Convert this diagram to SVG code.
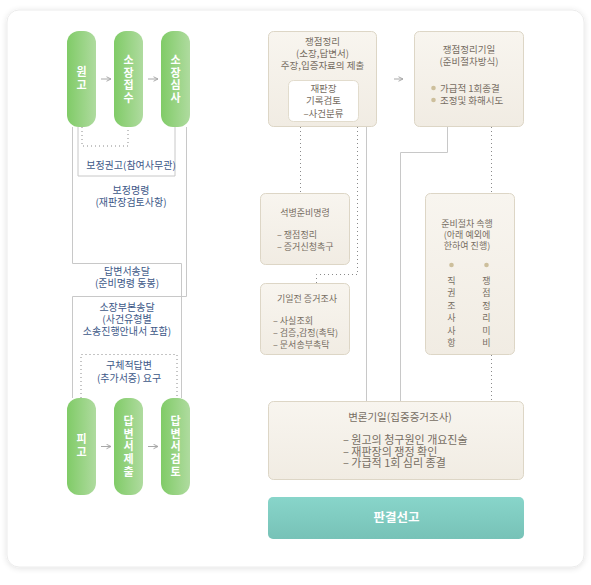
<svg xmlns="http://www.w3.org/2000/svg" width="591" height="585" viewBox="0 0 591 585">
<defs>
<linearGradient id="gGreen" x1="0" y1="0" x2="1" y2="0">
<stop offset="0" stop-color="#80cb67"/><stop offset="1" stop-color="#afdb9f"/>
</linearGradient>
<linearGradient id="gBeige" x1="0" y1="0" x2="0" y2="1">
<stop offset="0" stop-color="#f8f5ef"/><stop offset="1" stop-color="#f1ece3"/>
</linearGradient>
<linearGradient id="gTeal" x1="0" y1="0" x2="0" y2="1">
<stop offset="0" stop-color="#88d5ca"/><stop offset="1" stop-color="#77c2b7"/>
</linearGradient>
<filter id="sh" x="-5%" y="-5%" width="110%" height="110%">
<feGaussianBlur in="SourceAlpha" stdDeviation="3"/>
<feOffset dx="0" dy="1"/>
<feComponentTransfer><feFuncA type="linear" slope="0.12"/></feComponentTransfer>
<feMerge><feMergeNode/><feMergeNode in="SourceGraphic"/></feMerge>
</filter>
<marker id="arr" viewBox="0 0 8 8" refX="7" refY="4" markerWidth="6" markerHeight="6" orient="auto" markerUnits="userSpaceOnUse">
<path d="M1,1 L7,4 L1,7" fill="none" stroke="#a8a8a8" stroke-width="1.3"/>
</marker>
</defs>
<style>
.pill{fill:url(#gGreen)}
.pt{font-family:"Noto Sans CJK KR","Noto Sans",sans-serif;font-size:11px;font-weight:bold;fill:#ffffff;text-anchor:middle}
.lbl{font-family:"Noto Sans CJK KR","Noto Sans",sans-serif;font-size:10px;fill:#3d5888;text-anchor:middle}
.bx{fill:url(#gBeige);stroke:#ddd6c6;stroke-width:1}
.inner{fill:#ffffff;stroke:#e2dccd;stroke-width:1}
.bt{font-family:"Noto Sans CJK KR","Noto Sans",sans-serif;font-size:9px;fill:#766d62}
.bt2{font-size:9.5px}
.btc{text-anchor:middle}
.big{font-size:10.5px}
.big2{font-size:11px}
.ln{fill:none;stroke:#c8c8c8;stroke-width:1}
.dt{fill:none;stroke:#8a8a8a;stroke-width:1;stroke-dasharray:1 3}
.ar{stroke:#a8a8a8;stroke-width:1;marker-end:url(#arr)}
.dot{fill:#cdbf9c}
</style>
<rect x="0" y="0" width="591" height="585" fill="#ffffff"/>
<rect x="7" y="10" width="577" height="557" rx="12" fill="#ffffff" stroke="#ececec" filter="url(#sh)"/>

<g id="connectors">
<polyline class="dt" points="82,127 82,146 128,146 128,127"/>
<polyline class="ln" points="78,127 78,176 175,176 175,127"/>
<polyline class="ln" points="72.5,127 72.5,263.5 181.5,263.5 181.5,398"/>
<polyline class="ln" points="186.5,127 186.5,296.5 72.5,296.5 72.5,398"/>
<polyline class="dt" points="81,398 81,354.5 177,354.5 177,398"/>
<line class="ar" x1="101" y1="79" x2="111" y2="79"/>
<line class="ar" x1="148" y1="79" x2="158" y2="79"/>
<line class="ar" x1="101" y1="446.5" x2="111" y2="446.5"/>
<line class="ar" x1="148" y1="446.5" x2="158" y2="446.5"/>
<line class="ar" x1="394" y1="79" x2="403" y2="79"/>
<line class="dt" x1="300.5" y1="127" x2="300.5" y2="193"/>
<polyline class="dt" points="357.5,127 357.5,274.5 316.5,274.5 316.5,283"/>
<line class="ln" x1="366.5" y1="127" x2="366.5" y2="401"/>
<polyline class="ln" points="447.5,127 447.5,152.5 400.5,152.5 400.5,401"/>
<line class="dt" x1="491.5" y1="127" x2="491.5" y2="193"/>
<line class="dt" x1="491.5" y1="355" x2="491.5" y2="401"/>
</g>

<g id="labels-left">
<text class="lbl" x="131" y="169">보정권고(참여사무관)</text>
<text class="lbl" x="131" y="194">보정명령</text>
<text class="lbl" x="131" y="206">(재판장검토사항)</text>
<text class="lbl" x="127" y="275">답변서송달</text>
<text class="lbl" x="127" y="287">(준비명령 동봉)</text>
<text class="lbl" x="127" y="311">소장부본송달</text>
<text class="lbl" x="127" y="322.5">(사건유형별</text>
<text class="lbl" x="127" y="334.5">소송진행안내서 포함)</text>
<text class="lbl" x="129" y="369">구체적답변</text>
<text class="lbl" x="129" y="382">(추가서증) 요구</text>
</g>

<g id="n-wongo">
<rect class="pill" x="67" y="31" width="29" height="96" rx="12"/>
<text class="pt"><tspan x="81.5" y="76">원</tspan><tspan x="81.5" y="89">고</tspan></text>
</g>
<g id="n-sojangjeopsu">
<rect class="pill" x="114" y="31" width="29" height="96" rx="12"/>
<text class="pt"><tspan x="128.5" y="64">소</tspan><tspan x="128.5" y="76.5">장</tspan><tspan x="128.5" y="89">접</tspan><tspan x="128.5" y="101.5">수</tspan></text>
</g>
<g id="n-sojangsimsa">
<rect class="pill" x="161" y="31" width="29" height="96" rx="12"/>
<text class="pt"><tspan x="175.5" y="64">소</tspan><tspan x="175.5" y="76.5">장</tspan><tspan x="175.5" y="89">심</tspan><tspan x="175.5" y="101.5">사</tspan></text>
</g>
<g id="n-pigo">
<rect class="pill" x="67" y="398" width="29" height="97" rx="12"/>
<text class="pt"><tspan x="81.5" y="443">피</tspan><tspan x="81.5" y="456">고</tspan></text>
</g>
<g id="n-dapbyeonseojechul">
<rect class="pill" x="114" y="398" width="29" height="97" rx="12"/>
<text class="pt"><tspan x="128.5" y="425">답</tspan><tspan x="128.5" y="437.7">변</tspan><tspan x="128.5" y="450.4">서</tspan><tspan x="128.5" y="463.1">제</tspan><tspan x="128.5" y="475.8">출</tspan></text>
</g>
<g id="n-dapbyeonseogeomto">
<rect class="pill" x="161" y="398" width="29" height="97" rx="12"/>
<text class="pt"><tspan x="175.5" y="425">답</tspan><tspan x="175.5" y="437.7">변</tspan><tspan x="175.5" y="450.4">서</tspan><tspan x="175.5" y="463.1">검</tspan><tspan x="175.5" y="475.8">토</tspan></text>
</g>

<g id="n-jaengjeom">
<rect class="bx" x="268.5" y="31.5" width="108" height="95" rx="5"/>
<text class="bt bt2 btc" x="322.5" y="45">쟁점정리</text>
<text class="bt bt2 btc" x="322.5" y="57">(소장,답변서)</text>
<text class="bt bt2 btc" x="322.5" y="69">주장,입증자료의 제출</text>
<rect class="inner" x="288.5" y="80.5" width="70" height="41" rx="5"/>
<text class="bt bt2 btc" x="323.5" y="91.5">재판장</text>
<text class="bt bt2 btc" x="323.5" y="104">기록검토</text>
<text class="bt bt2 btc" x="323.5" y="116.5">–사건분류</text>
</g>
<g id="n-jaengjeomgiil">
<rect class="bx" x="414.5" y="31.5" width="109" height="95" rx="5"/>
<text class="bt bt2 btc" x="469" y="53">쟁점정리기일</text>
<text class="bt bt2 btc" x="469" y="65">(준비절차방식)</text>
<circle class="dot" cx="433.5" cy="88" r="2.3"/>
<text class="bt bt2" x="440" y="91.5">가급적 1회종결</text>
<circle class="dot" cx="433.5" cy="100" r="2.3"/>
<text class="bt bt2" x="440" y="103.5">조정및 화해시도</text>
</g>
<g id="n-seokbyeong">
<rect class="bx" x="260.5" y="193.5" width="89" height="71" rx="5"/>
<text class="bt btc" x="305" y="216">석병준비명령</text>
<text class="bt" x="277" y="237.5">– 쟁점정리</text>
<text class="bt" x="277" y="250">– 증거신청촉구</text>
</g>
<g id="n-giiljeon">
<rect class="bx" x="260.5" y="283.5" width="89" height="71" rx="5"/>
<text class="bt btc" x="307" y="301.5">기일전 증거조사</text>
<text class="bt" x="273" y="323.5">– 사실조회</text>
<text class="bt" x="273" y="336">– 검증,감정(촉탁)</text>
<text class="bt" x="273" y="348">– 문서송부촉탁</text>
</g>
<g id="n-junbi">
<rect class="bx" x="425.5" y="193.5" width="89" height="161" rx="5"/>
<text class="bt btc" x="467" y="226.5">준비절차 속행</text>
<text class="bt btc" x="467" y="237.5">(아래 예외에</text>
<text class="bt btc" x="467" y="248.5">한하여 진행)</text>
<circle class="dot" cx="451.5" cy="265" r="2.3"/>
<circle class="dot" cx="486.5" cy="265" r="2.3"/>
<text class="bt btc"><tspan x="451.5" y="283.5">직</tspan><tspan x="451.5" y="296">권</tspan><tspan x="451.5" y="308.5">조</tspan><tspan x="451.5" y="321">사</tspan><tspan x="451.5" y="333.5">사</tspan><tspan x="451.5" y="346">항</tspan></text>
<text class="bt btc"><tspan x="486.5" y="283.5">쟁</tspan><tspan x="486.5" y="296">점</tspan><tspan x="486.5" y="308.5">정</tspan><tspan x="486.5" y="321">리</tspan><tspan x="486.5" y="333.5">미</tspan><tspan x="486.5" y="346">비</tspan></text>
</g>
<g id="n-byeollon">
<rect class="bx" x="268.5" y="401.5" width="255" height="78" rx="5"/>
<text class="bt btc big" x="400" y="421">변론기일(집중증거조사)</text>
<text class="bt big2" x="343" y="444">– 원고의 청구원인 개요진술</text>
<text class="bt big2" x="343" y="455.5">– 재판장의 쟁정 확인</text>
<text class="bt big2" x="343" y="467">– 가급적 1회 심리 종결</text>
</g>
<g id="n-pangyeol">
<rect x="268" y="497" width="256" height="42" rx="5" fill="url(#gTeal)"/>
<text x="396.5" y="522" text-anchor="middle" font-family="'Noto Sans CJK KR','Noto Sans',sans-serif" font-size="12.5" font-weight="bold" fill="#ffffff">판결선고</text>
</g>
</svg>
